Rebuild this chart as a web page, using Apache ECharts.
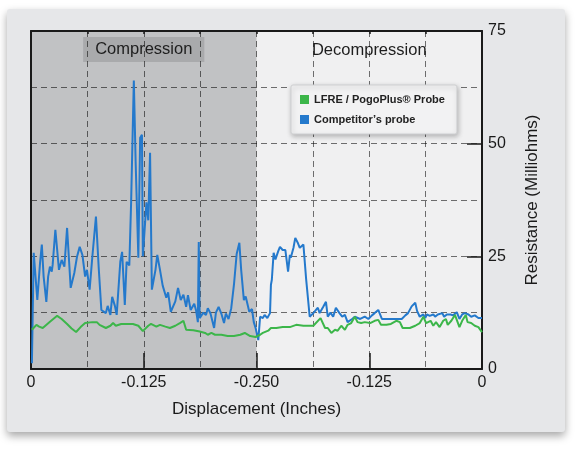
<!DOCTYPE html>
<html>
<head>
<meta charset="utf-8">
<script src="https://cdn.jsdelivr.net/npm/echarts@6/dist/echarts.min.js"></script>
<style>
html,body{margin:0;padding:0;background:#fff;}
.chart{width:576px;height:452px;}
</style>
</head>
<body>
<div class="chart"></div>
<script>
// 位移 (0 -> 0.25 压缩, 0.25 -> 0.5 回弹), 电阻 mOhm
var blueX = [
  0.001,0.003,0.007,0.010,0.012,0.014,0.017,0.019,0.021,0.023,
  0.024,0.027,0.031,0.034,0.037,0.040,0.044,0.048,0.051,0.054,
  0.057,0.060,0.062,0.065,0.068,0.072,0.075,0.078,0.083,0.085,
  0.088,0.090,0.093,0.095,0.099,0.101,0.104,0.106,0.109,0.111,
  0.114,0.116,0.119,0.121,0.123,0.124,0.128,0.130,0.132,0.134,
  0.138,0.140,0.143,0.146,0.150,0.152,0.155,0.160,0.163,0.166,
  0.169,0.172,0.174,0.177,0.181,0.183,0.185,0.186,0.187,0.191,
  0.194,0.196,0.199,0.203,0.205,0.208,0.211,0.214,0.216,0.219,
  0.222,0.225,0.228,0.231,0.233,0.236,0.238,0.242,0.245,0.247,
  0.249,0.252,0.254,0.257,0.259,0.262,0.265,0.266,0.267,0.269,
  0.271,0.274,0.276,0.279,0.282,0.285,0.287,0.288,0.291,0.293,
  0.296,0.298,0.302,0.305,0.309,0.313,0.315,0.318,0.320,0.324,
  0.327,0.329,0.332,0.335,0.338,0.342,0.345,0.348,0.351,0.356,
  0.359,0.365,0.370,0.374,0.378,0.381,0.385,0.389,0.395,0.400,
  0.406,0.411,0.415,0.418,0.422,0.426,0.428,0.431,0.435,0.437,
  0.439,0.442,0.446,0.448,0.451,0.456,0.458,0.461,0.465,0.468,
  0.472,0.475,0.478,0.481,0.485,0.488,0.492,0.496,0.500
];
var blueV = [
  1.3,25.8,15.3,23.5,27.6,20.5,14.9,20.5,22.7,21.6,
  23.1,30.9,22,24.2,22.7,31.3,18,21.3,24.9,27.1,
  25.3,20.5,22,17.6,24.9,33.8,22.7,13.1,12.4,14,
  12,16,14,12,23.8,26,14.2,23.8,23,37,
  64,46,24.7,51.3,52,25,37,33,48,17.6,
  22,25.3,22,18.5,15.8,17,12.7,15,18,15.3,
  16.5,13.8,16.4,13.1,14.5,13,10.4,28.2,11.3,12.5,
  12,13.5,12.3,9.1,12.5,13.8,12.3,10.2,12.3,11.1,
  13.5,18.7,25.5,28,22,15.3,16.1,12.7,13.3,10.4,
  9.1,6.4,11.6,11.3,12,11.3,12.4,18.7,19.8,25.8,
  24.3,26.1,27.1,26.4,26.4,21.6,25.3,24.7,26.9,29.1,
  27.9,26.9,27.6,20,11.6,12.4,12.2,13.6,12.4,13.8,
  14.9,11.6,12.5,11.6,13.6,12.4,11.6,12,10.4,11.1,
  11.6,11.1,11.6,11.1,11.9,12.4,13.1,11.1,11.1,11.1,
  11.1,11.1,11.9,12.4,13.9,14.7,12.9,11.6,12.1,11.3,
  12.1,11.8,12.1,11.6,12.1,12.4,11.6,12.1,12.1,11.9,
  12.6,11.1,12.1,12.4,12.1,11.6,11.9,11.3,11.3
];
var greenX = [
  0.001,0.006,0.009,0.013,0.021,0.029,0.034,0.040,0.045,0.050,
  0.055,0.060,0.068,0.073,0.076,0.083,0.088,0.091,0.094,0.100,
  0.113,0.119,0.124,0.130,0.133,0.139,0.143,0.149,0.154,0.160,
  0.165,0.169,0.172,0.180,0.187,0.193,0.196,0.200,0.204,0.211,
  0.218,0.225,0.232,0.237,0.243,0.249,0.254,0.257,0.263,0.266,
  0.272,0.279,0.287,0.294,0.302,0.313,0.321,0.326,0.329,0.333,
  0.337,0.340,0.344,0.348,0.351,0.355,0.359,0.362,0.366,0.370,
  0.376,0.381,0.385,0.388,0.394,0.399,0.405,0.409,0.412,0.420,
  0.426,0.431,0.435,0.438,0.443,0.446,0.449,0.453,0.457,0.460,
  0.462,0.466,0.470,0.472,0.475,0.478,0.482,0.484,0.488,0.492,
  0.496,0.500
];
var greenV = [
  8.7,9.8,9.4,9.1,10.5,11.8,11.1,10,9,8.2,
  9.3,10.2,10.4,10.4,9.8,9.1,9.6,10.2,9.6,10,
  10,9.6,8.4,9.6,10,9.4,9.8,9.4,9.1,9.6,
  10.2,10.7,8.7,8.6,8.3,8,7.6,8,7.6,7.6,
  7.3,7.3,7.6,8,7.3,7.1,7.6,8,8.5,9.1,
  9.1,9.3,9.3,9.8,9.6,9.6,11.3,9.1,9.1,8,
  8.7,8.5,9.6,8.7,9.8,10.2,11.6,10.4,10.2,10.4,
  10.2,10.7,10.9,9.8,9.8,10,10.7,10.4,9.1,9.1,
  9.6,10.2,11.6,10.2,10.7,9.6,10.4,9.3,10.7,11.1,
  9.8,10.7,12,12.4,9.3,10.7,12,10.4,10.2,9.6,
  9.3,8.2
];
var xTickVals = [0, 0.125, 0.25, 0.375, 0.5];
var xTickText = ['0', '-0.125', '-0.250', '-0.125', '0'];
var yTickVals = [0, 25, 50, 75];
var seriesNames = ['LFRE / PogoPlus\u00ae Probe', 'Competitor\u2019s probe'];
var phaseNames = ['Compression', 'Decompression'];

(function(){
  var FONT = '"Liberation Sans", Arial, sans-serif';
  function zip(xs, ys){
    var out = [];
    for(var i=0;i<xs.length;i++){
      out.push([xs[i], ys[i]]);
    }
    return out;
  }
  var myChart = echarts.init(document.querySelector('.chart'));
  var tickLine = {color: '#1a1a1a', width: 1.5};
  var borderLine = {show: true, onZero: false, lineStyle: {color: '#1a1a1a', width: 2}};
  var option = {
    backgroundColor: '#ffffff',
    animation: false,
    graphic: [{
      type: 'rect', left: 7, top: 9, z: -10, silent: true,
      shape: {width: 558, height: 423, r: 3},
      style: {fill: '#e6e7e9', shadowBlur: 8, shadowOffsetY: 4, shadowColor: 'rgba(0,0,0,0.35)'}
    }],
    grid: {
      left: 31, right: 94, top: 31, bottom: 83,
      show: true, backgroundColor: '#f0f0f1', borderWidth: 0
    },
    legend: {
      data: seriesNames,
      orient: 'vertical', left: 291, top: 85,
      padding: [9, 12, 9, 9], itemGap: 9, itemWidth: 9, itemHeight: 9, icon: 'rect',
      backgroundColor: '#f2f2f3', borderColor: '#cfd0d2', borderWidth: 1, borderRadius: 2,
      shadowBlur: 5, shadowColor: 'rgba(0,0,0,0.25)', shadowOffsetX: 1, shadowOffsetY: 2,
      textStyle: {fontFamily: FONT, fontSize: 11, fontWeight: 'bold', color: '#222'}
    },
    xAxis: [
      {
        type: 'value', position: 'bottom', min: 0, max: 0.5, interval: 0.0625, z: 2,
        name: 'Displacement (Inches)', nameLocation: 'middle', nameGap: 32,
        nameTextStyle: {fontFamily: FONT, fontSize: 17, color: '#1a1a1a'},
        axisLine: borderLine,
        axisTick: {show: false},
        axisLabel: {
          fontFamily: FONT, fontSize: 16, color: '#1a1a1a', margin: 6,
          formatter: function(v){
            var i = xTickVals.indexOf(v);
            return i < 0 ? '' : xTickText[i];
          }
        },
        splitLine: {show: true, lineStyle: {color: 'rgba(0,0,0,0.55)', type: [6, 4], width: 1}}
      },
      {
        type: 'value', position: 'top', min: 0, max: 0.5, interval: 0.0625, z: 2,
        axisLine: borderLine,
        axisTick: {show: true, inside: true, length: 3, lineStyle: tickLine},
        axisLabel: {show: false}, splitLine: {show: false}
      },
      {
        type: 'value', position: 'bottom', min: 0, max: 0.5, interval: 0.125, z: 2,
        axisLine: {show: false, onZero: false},
        axisTick: {show: true, inside: true, length: 16, lineStyle: tickLine},
        axisLabel: {show: false}, splitLine: {show: false}
      }
    ],
    yAxis: [
      {
        type: 'value', position: 'right', min: 0, max: 75, interval: 12.5, z: 2,
        name: 'Resistance (Milliohms)', nameLocation: 'middle', nameGap: 42, nameRotate: 90,
        nameTextStyle: {fontFamily: FONT, fontSize: 17, color: '#1a1a1a'},
        axisLine: borderLine,
        axisTick: {show: false},
        axisLabel: {
          fontFamily: FONT, fontSize: 16, color: '#1a1a1a', margin: 6,
          formatter: function(v){
            return yTickVals.indexOf(v) < 0 ? '' : String(v);
          }
        },
        splitLine: {show: true, lineStyle: {color: 'rgba(0,0,0,0.55)', type: [6, 4], width: 1}}
      },
      {
        type: 'value', position: 'left', min: 0, max: 75, interval: 12.5, z: 2,
        axisLine: borderLine,
        axisTick: {show: false}, axisLabel: {show: false}, splitLine: {show: false}
      },
      {
        type: 'value', position: 'right', min: 0, max: 75, interval: 25, z: 2,
        axisLine: {show: false, onZero: false},
        axisTick: {show: true, inside: true, length: 15, lineStyle: tickLine},
        axisLabel: {show: false}, splitLine: {show: false}
      }
    ],
    series: [
      {
        name: seriesNames[1],
        type: 'line',
        z: 3,
        data: zip(blueX, blueV),
        showSymbol: false,
        itemStyle: {color: '#2479cc'},
        lineStyle: {color: '#2479cc', width: 2},
        markArea: {
          silent: true,
          data: [
            [{
              name: phaseNames[0], xAxis: 0,
              itemStyle: {color: '#c1c2c4'},
              label: {
                show: true, position: 'insideTop', distance: 6,
                fontFamily: FONT, fontSize: 16.5, color: '#1e1e1e',
                backgroundColor: '#a9aaac', padding: [4, 12, 4, 12]
              }
            }, {xAxis: 0.25}],
            [{
              name: phaseNames[1], xAxis: 0.25,
              itemStyle: {color: 'rgba(0,0,0,0)'},
              label: {
                show: true, position: 'insideTop', distance: 11,
                fontFamily: FONT, fontSize: 16.5, color: '#1e1e1e'
              }
            }, {xAxis: 0.5}]
          ]
        }
      },
      {
        name: seriesNames[0],
        type: 'line',
        z: 4,
        data: zip(greenX, greenV),
        showSymbol: false,
        itemStyle: {color: '#3cb64a'},
        lineStyle: {color: '#3cb64a', width: 2}
      }
    ]
  };
  myChart.setOption(option);
  window.addEventListener('resize', function(){
    myChart.resize();
  });
})();
</script>
</body>
</html>
